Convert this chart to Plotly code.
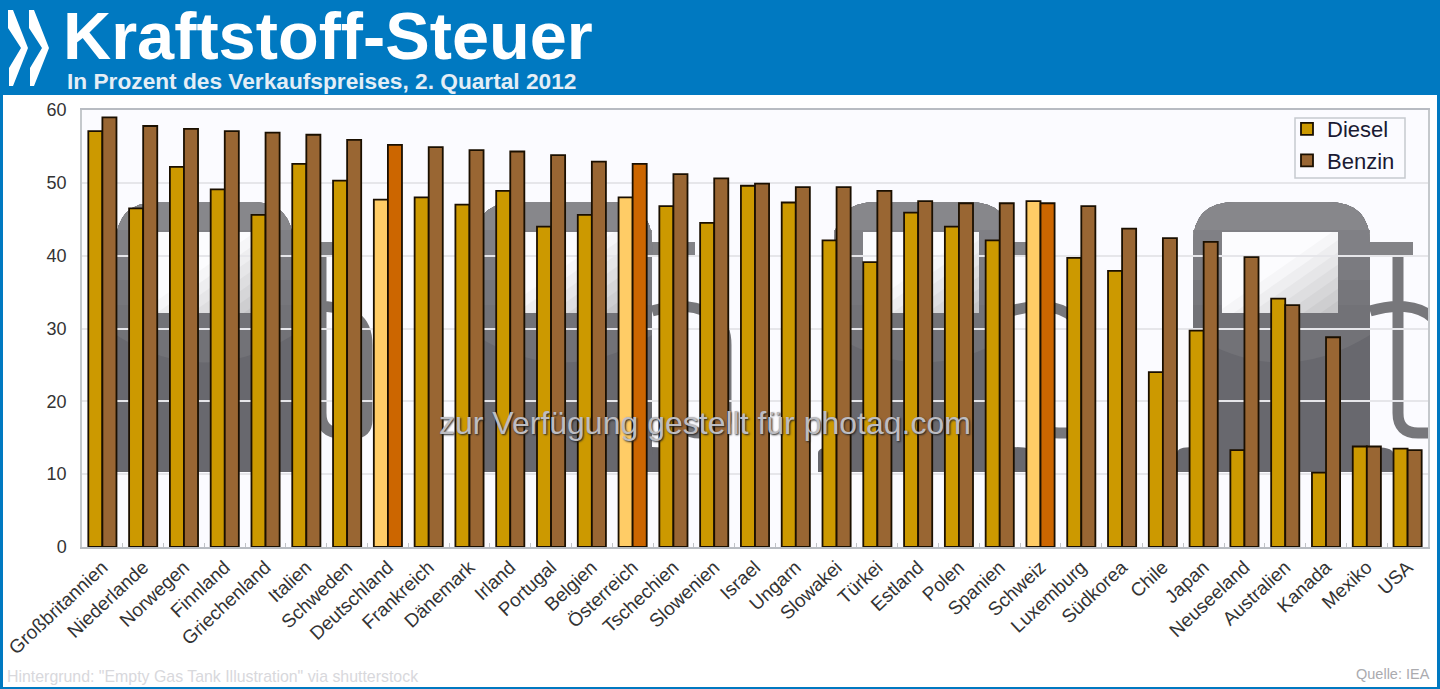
from __future__ import annotations

import plotly.graph_objects as go

COUNTRIES = [
    "Großbritannien", "Niederlande", "Norwegen", "Finnland", "Griechenland", "Italien",
    "Schweden", "Deutschland", "Frankreich", "Dänemark", "Irland", "Portugal", "Belgien",
    "Österreich", "Tschechien", "Slowenien", "Israel", "Ungarn", "Slowakei", "Türkei",
    "Estland", "Polen", "Spanien", "Schweiz", "Luxemburg", "Südkorea", "Chile", "Japan",
    "Neuseeland", "Australien", "Kanada", "Mexiko", "USA",
]
DIESEL = [
    57.1, 46.5, 52.2, 49.1, 45.6, 52.6, 50.3, 47.7, 48.0, 47.0, 48.9, 44.0, 45.6, 48.0,
    46.8, 44.5, 49.6, 47.3, 42.1, 39.1, 45.9, 44.0, 42.1, 47.5, 39.7, 37.9, 24.0, 29.7,
    13.3, 34.1, 10.2, 13.8, 13.5,
]
BENZIN = [
    59.0, 57.8, 57.4, 57.1, 56.9, 56.6, 55.9, 55.2, 54.9, 54.5, 54.3, 53.8, 52.9, 52.6,
    51.2, 50.6, 49.9, 49.4, 49.4, 48.9, 47.5, 47.2, 47.2, 47.2, 46.8, 43.7, 42.4, 41.9,
    39.8, 33.2, 28.8, 13.8, 13.3,
]
HIGHLIGHT = ["Deutschland", "Österreich", "Schweiz"]
Y_TICKS = [0, 10, 20, 30, 40, 50, 60]

W, H = 1440, 689
LEFT, RIGHT, TOP, BOTTOM = 82, 1428, 110, 547
BLUE = "#0079C1"
FONT = "Liberation Sans"


def px_x(x: float) -> float:
    return (x - LEFT) / (RIGHT - LEFT)


def px_y(y: float) -> float:
    return (BOTTOM - y) / (BOTTOM - TOP)


def px_path(cmds: list) -> str:
    """Build an svg path in paper coords from (letter, x, y, ...) tuples in pixels"""
    out = []
    for cmd in cmds:
        nums = cmd[1:]
        pts = []
        for i in range(0, len(nums), 2):
            pts.append(f"{px_x(nums[i]):.5f},{px_y(nums[i + 1]):.5f}")
        out.append(cmd[0] + " ".join(pts))
    return " ".join(out)


def paper_shape(cmds: list, fill=None, line=None, width=0) -> dict:
    shape = dict(type="path", xref="paper", yref="paper", layer="below", path=px_path(cmds))
    shape["line"] = dict(color=line or "rgba(0,0,0,0)", width=width)
    if fill:
        shape["fillcolor"] = fill
    return shape


def box(x0, y0, x1, y1, fill, line=None, width=0) -> dict:
    cmds = [("M", x0, y0), ("L", x1, y0), ("L", x1, y1), ("L", x0, y1), ("Z",)]
    return paper_shape(cmds, fill=fill, line=line, width=width)


def tank_top(x, bottom, sag=0) -> list:
    # rounded top of the tank body, flat or sagging at the bottom
    r = 42
    top = 202
    end = ("L", x, bottom) if not sag else ("Q", x + 88, bottom + sag, x, bottom)
    return [
        ("M", x, bottom), ("L", x, top + r), ("Q", x, top, x + r, top), ("L", x + 177 - r, top),
        ("Q", x + 177, top, x + 177, top + r), ("L", x + 177, bottom), end, ("Z",),
    ]


def tank_shapes(x: float) -> list:
    shapes = []
    # hose and nozzle
    hose = [
        ("M", x + 177, 311), ("C", x + 200, 304, x + 225, 304, x + 240, 318),
        ("Q", x + 251, 326, x + 251, 345), ("L", x + 251, 420), ("Q", x + 251, 433, x + 238, 433),
        ("L", x + 225, 433), ("Q", x + 205, 433, x + 205, 413), ("L", x + 205, 250),
    ]
    shapes.append(paper_shape(hose, line="#77777B", width=11))
    shapes.append(box(x + 170, 242, x + 220, 255, "#838387"))
    # base and body
    base = [
        ("M", x - 16, 453), ("Q", x - 16, 447, x, 447), ("L", x + 177, 447),
        ("Q", x + 200, 447, x + 200, 453), ("L", x + 200, 472), ("L", x - 16, 472), ("Z",),
    ]
    shapes.append(paper_shape(base, fill="#68686E"))
    shapes.append(paper_shape(tank_top(x, 455), fill="#68686E"))
    for bottom, sag, colour in [
        (335, 55, "#727277"), (305, 0, "#76767B"), (280, 0, "#7B7B80"),
        (255, 0, "#808085"), (230, 0, "#87878B"),
    ]:
        shapes.append(paper_shape(tank_top(x, bottom, sag), fill=colour))
    # window, diagonal fade from white to grey
    wl, wt, ww, wh = x + 29, 232, 116, 81
    shapes.append(box(wl, wt, wl + ww, wt + wh, "#C6C6C8"))
    for t, colour in [
        (1.85, "#CECED0"), (1.7, "#D6D6D8"), (1.55, "#DEDEE0"), (1.4, "#E6E6E8"),
        (1.25, "#EEEEF0"), (1.1, "#F6F6F8"), (0.95, "#FCFCFE"),
    ]:
        if t > 1:
            poly = [(0, 0), (1, 0), (1, t - 1), (t - 1, 1), (0, 1)]
        else:
            poly = [(0, 0), (t, 0), (0, t)]
        cmds = [("M" if i == 0 else "L", wl + u * ww, wt + v * wh) for i, (u, v) in enumerate(poly)]
        shapes.append(paper_shape(cmds + [("Z",)], fill=colour))
    return shapes


def build_shapes() -> list:
    shapes = [box(3, 95, 1437, 687, "white"), box(LEFT, TOP, RIGHT, BOTTOM, "#FBFBFF")]
    for x in [116, 475, 834, 1193]:
        shapes += tank_shapes(x)
    # hide the hose where it runs past the plot area
    shapes.append(box(RIGHT, 95, 1437, BOTTOM, "white"))
    shapes.append(box(1437, 95, 1440, 689, BLUE))
    # legend frame, plotly's own box is too tall for the two rows
    shapes.append(box(1295, 118, 1405, 178, "#FBFBFF", line="#C6CACF", width=1.5))
    # chevrons in the header
    for dx in [0, 21]:
        chevron = [
            ("M", 8 + dx, 10), ("L", 13 + dx, 10), ("L", 28 + dx, 48), ("L", 13 + dx, 86),
            ("L", 9 + dx, 86), ("L", 9 + dx, 68), ("L", 21 + dx, 48), ("L", 8 + dx, 28), ("Z",),
        ]
        shapes.append(paper_shape(chevron, fill="white"))
    return shapes


def note(text, x, y, size, colour, bold=False, anchor="left", shadow=None) -> dict:
    font = dict(family=FONT, size=size, color=colour)
    if shadow:
        font["shadow"] = shadow
    if bold:
        text = f"<b>{text}</b>"
    return dict(
        text=text, x=px_x(x), y=px_y(y), xref="paper", yref="paper", showarrow=False,
        xanchor=anchor, yanchor="middle", font=font, borderpad=0,
    )


diesel_colours = ["#FFCC66" if c in HIGHLIGHT else "#CC9900" for c in COUNTRIES]
benzin_colours = ["#CC6600" if c in HIGHLIGHT else "#996633" for c in COUNTRIES]
bar_line = dict(color="#1A0F00", width=1.8)

fig = go.Figure()
fig.add_bar(x=COUNTRIES, y=DIESEL, name="Diesel", marker=dict(color=diesel_colours, line=bar_line))
fig.add_bar(x=COUNTRIES, y=BENZIN, name="Benzin", marker=dict(color=benzin_colours, line=bar_line))

fig.update_layout(
    width=W,
    height=H,
    margin=dict(l=LEFT, r=W - RIGHT, t=TOP, b=H - BOTTOM, pad=0, autoexpand=False),
    paper_bgcolor=BLUE,
    plot_bgcolor="rgba(0,0,0,0)",
    barmode="group",
    bargap=0.31,
    bargroupgap=0,
    font=dict(family=FONT, color="#333333"),
    shapes=build_shapes(),
    annotations=[
        note("Kraftstoff-Steuer", 62, 36, 66.7, "white", bold=True),
        note("In Prozent des Verkaufspreises, 2. Quartal 2012", 66, 81, 22.7, "#E4EEF6", bold=True),
        note("zur Verfügung gestellt für photaq.com", 705, 423, 32, "#BDBDC2",
             anchor="center", shadow="1px 1px 2px #222222"),
        note("Hintergrund: \"Empty Gas Tank Illustration\" via shutterstock", 6, 676, 15.9, "#D8D8DC"),
        note("Quelle: IEA", 1431, 674, 14.5, "#ABABAF", anchor="right"),
    ],
    legend=dict(
        x=px_x(1400), y=px_y(108), xanchor="right", yanchor="top",
        bgcolor="rgba(0,0,0,0)", borderwidth=0,
        font=dict(family=FONT, size=22, color="#1A1A33"),
    ),
)
fig.update_xaxes(
    type="category", range=[-0.5, len(COUNTRIES) - 0.5], tickangle=-43, tickson="boundaries",
    ticks="inside", ticklen=4, tickcolor="#C0C2C6", showgrid=False, showline=True,
    linecolor="#B8BCC2", linewidth=1.5, mirror=True, automargin=False,
    tickfont=dict(family=FONT, size=19, color="#333333"),
)
fig.update_yaxes(
    range=[0, 60], tickvals=Y_TICKS, showgrid=True, gridcolor="#E6E6EA", gridwidth=1.5,
    zeroline=False, ticks="", ticklabelstandoff=10, showline=True, linecolor="#C4C8CC",
    linewidth=1.5, mirror=True, automargin=False,
    tickfont=dict(family=FONT, size=18, color="#333333"),
)

# page margin off, so the figure fills the window exactly
fig.write_html(
    "out.html",
    config={"displayModeBar": False},
    post_script="document.body.style.margin = '0';",
)
